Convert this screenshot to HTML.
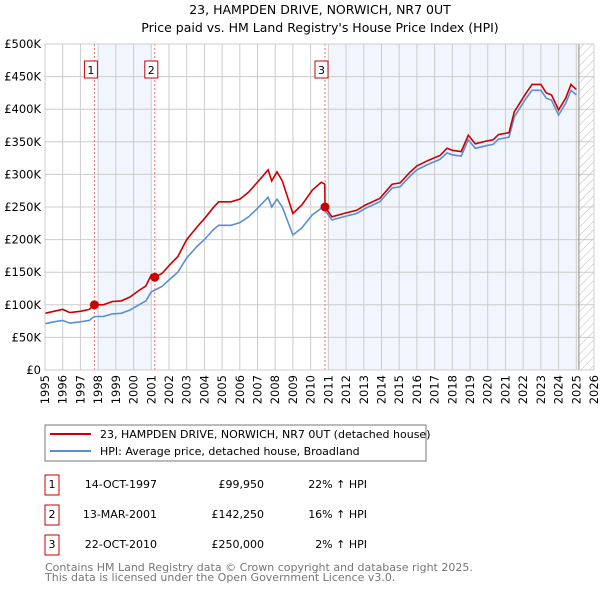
<!DOCTYPE html>
<html><head><meta charset="utf-8"><style>
body{margin:0;background:#fff;font-family:"DejaVu Sans","Liberation Sans",sans-serif;}
svg text{font-family:"DejaVu Sans","Liberation Sans",sans-serif;}
</style></head><body>
<svg id="c" width="600" height="590" xmlns="http://www.w3.org/2000/svg">
<defs><pattern id="hatch" width="6" height="6" patternUnits="userSpaceOnUse" patternTransform="rotate(45)"><line x1="0" y1="0" x2="0" y2="6" stroke="#bbb" stroke-width="1"/></pattern></defs>
<text x="320" y="14" text-anchor="middle" font-size="12.5">23, HAMPDEN DRIVE, NORWICH, NR7 0UT</text>
<text x="320" y="32" text-anchor="middle" font-size="12.5">Price paid vs. HM Land Registry's House Price Index (HPI)</text>
<g id="plot"></g>
<rect x="45" y="425" width="381" height="36" fill="#fff" stroke="#777"/>
<line x1="50" y1="434" x2="91" y2="434" stroke="#cc0000" stroke-width="2"/>
<text x="100" y="438" font-size="11">23, HAMPDEN DRIVE, NORWICH, NR7 0UT (detached house)</text>
<line x1="50" y1="451" x2="91" y2="451" stroke="#5b8fd4" stroke-width="2"/>
<text x="100" y="455" font-size="11">HPI: Average price, detached house, Broadland</text>
<g font-size="11">
<rect x="45" y="475" width="14" height="20" fill="#fff" stroke="#cc0000"/><text x="52" y="488" text-anchor="middle">1</text>
<text x="157" y="488" text-anchor="end">14-OCT-1997</text><text x="264" y="488" text-anchor="end">£99,950</text><text x="367" y="488" text-anchor="end">22% ↑ HPI</text>
<rect x="45" y="505" width="14" height="20" fill="#fff" stroke="#cc0000"/><text x="52" y="518" text-anchor="middle">2</text>
<text x="157" y="518" text-anchor="end">13-MAR-2001</text><text x="264" y="518" text-anchor="end">£142,250</text><text x="367" y="518" text-anchor="end">16% ↑ HPI</text>
<rect x="45" y="535" width="14" height="20" fill="#fff" stroke="#cc0000"/><text x="52" y="548" text-anchor="middle">3</text>
<text x="157" y="548" text-anchor="end">22-OCT-2010</text><text x="264" y="548" text-anchor="end">£250,000</text><text x="367" y="548" text-anchor="end">2% ↑ HPI</text>
</g>
<text x="45" y="571" font-size="11" fill="#777">Contains HM Land Registry data © Crown copyright and database right 2025.</text>
<text x="45" y="581" font-size="11" fill="#777">This data is licensed under the Open Government Licence v3.0.</text>
</svg>
<script>
const years=[1995.0,1995.5,1996.0,1996.4,1997.0,1997.5,1997.79,1998.3,1998.8,1999.3,1999.8,2000.3,2000.7,2001.0,2001.2,2001.6,2002.0,2002.5,2003.0,2003.6,2004.0,2004.5,2004.8,2005.5,2006.0,2006.5,2007.0,2007.6,2007.8,2008.1,2008.4,2009.0,2009.5,2010.1,2010.6,2010.8,2010.81,2011.2,2012.0,2012.6,2013.1,2013.9,2014.6,2015.05,2015.6,2016.0,2016.6,2017.3,2017.7,2018.0,2018.5,2018.9,2019.3,2019.9,2020.3,2020.6,2021.2,2021.5,2022.1,2022.5,2023.0,2023.3,2023.6,2024.0,2024.4,2024.7,2025.0];
const hpi=[71,74,76,72,74,76,82,82,86,87,92,100,106,120,122.6,128,138,150,172,190,200,215,222,222,226,235,248,265,250,262,250,207,218,238,248,246,245,230,236,240,248,258,279,281,297,307,315,323,333,330,328,353,340,344,346,354,357,388,414,429,429,417,414,391,409,429,422];
const property=[87,90,93,88,90,93,99.95,100,105,106,112,122,129,146,142.25,148,160,174,200,220,232,249,258,258,262,273,288,307,290,304,290,240,253,276,288,285,250,235,241,245,253,263,285,287,303,313,321,329,340,337,335,360,347,351,353,361,364,396,422,438,438,425,422,399,417,438,430];
const saleYears=[1997.79,2001.2,2010.81];
const salePrices=[99.95,142.25,250];
const saleLabels=["1","2","3"];
const yTicks=[0,50,100,150,200,250,300,350,400,450,500];
const yTickLabels=["£0","£50K","£100K","£150K","£200K","£250K","£300K","£350K","£400K","£450K","£500K"];
const xTicks=[1995,1996,1997,1998,1999,2000,2001,2002,2003,2004,2005,2006,2007,2008,2009,2010,2011,2012,2013,2014,2015,2016,2017,2018,2019,2020,2021,2022,2023,2024,2025,2026];

const L=45,R=594,T=44,B=370;
const X=y=>L+(y-1995)/(2026-1995)*(R-L);
const Y=v=>B-v/500*(B-T);
const NS="http://www.w3.org/2000/svg";
const g=document.getElementById('plot');
function mk(t,a,p){const e=document.createElementNS(NS,t);for(const k in a)e.setAttribute(k,a[k]);(p||g).appendChild(e);return e;}
let e;
e=mk('rect',{x:L,y:T,width:R-L,height:B-T,fill:'#fff'});


e=mk('rect',{x:X(1998),y:T,width:X(2001)-X(1998),height:B-T,fill:'#eef3fc',opacity:0.8});


e=mk('rect',{x:X(2011),y:T,width:X(2025.15)-X(2011),height:B-T,fill:'#eef3fc',opacity:0.8});


e=mk('rect',{x:X(2025.15),y:T,width:R-X(2025.15),height:B-T,fill:'url(#hatch)'});


yTicks.forEach((v,i)=>{
 e=mk('line',{x1:L,x2:R,y1:Y(v),y2:Y(v),stroke:'#ccc','stroke-width':1});
 
 
 e=mk('text',{x:L-4,y:Y(v)+4,'text-anchor':'end','font-size':11.5});
 e.textContent=yTickLabels[i];
 
 
});
xTicks.forEach(v=>{
 e=mk('line',{x1:X(v),x2:X(v),y1:T,y2:B,stroke:'#ccc','stroke-width':1});
 
 
 e=mk('text',{x:0,y:0,'text-anchor':'end','font-size':11.5,transform:`translate(${X(v)+4},${B+5}) rotate(-90)`});
 e.textContent=v;
 
 
});
e=mk('line',{x1:X(2025.15),x2:X(2025.15),y1:T,y2:B,stroke:'#888','stroke-width':1});


saleYears.forEach((s,i)=>{
 e=mk('line',{x1:X(s),x2:X(s),y1:T,y2:B,stroke:'#f07070','stroke-width':1,'stroke-dasharray':'2,2'});
 
 
});
const pts=a=>a.map((v,i)=>X(years[i]).toFixed(1)+','+Y(v).toFixed(1)).join(' ');
e=mk('polyline',{points:pts(hpi),fill:'none',stroke:'#5b8fd4','stroke-width':1.6});


e=mk('polyline',{points:pts(property),fill:'none',stroke:'#cc0000','stroke-width':1.6});


saleYears.forEach((s,i)=>{
 e=mk('circle',{cx:X(s),cy:Y(salePrices[i]),r:4.5,fill:'#cc0000'});
 
 
 e=mk('rect',{x:X(s)-10,y:61,width:13,height:17,fill:'#fff',stroke:'#cc0000'});
 
 
 e=mk('text',{x:X(s)-3.5,y:74,'text-anchor':'middle','font-size':11});
 e.textContent=saleLabels[i];
 
 
});
e=mk('rect',{x:L,y:T,width:R-L,height:B-T,fill:'none',stroke:'#ccc'});


</script>
</body></html>
